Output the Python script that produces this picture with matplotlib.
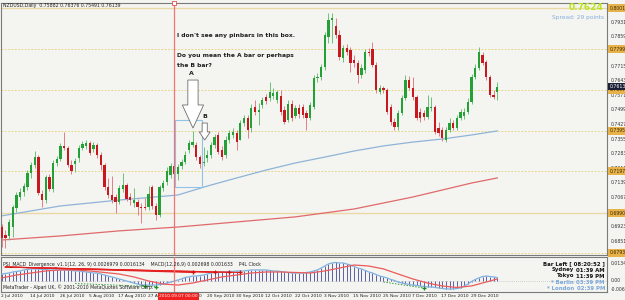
import numpy as np
import matplotlib
matplotlib.use("Agg")
import matplotlib.pyplot as plt
from matplotlib.patches import Polygon, Rectangle
from matplotlib.transforms import blended_transform_factory as blend

plt.rcParams['font.family'] = ['DejaVu Sans']

# NZDUSD daily bars, 2 Jul 2010 -> 7 Jan 2011 (bar index 0 = 2 Jul 2010)
opens = [
    0.6921, 0.6882, 0.6877, 0.6921, 0.7015, 0.7069, 0.7094, 0.7118, 0.7188, 0.7227,
    0.7266, 0.7084, 0.7054, 0.7168, 0.7109, 0.7237, 0.7257, 0.7321, 0.7311, 0.7227,
    0.7232, 0.7261, 0.7311, 0.7321, 0.7335, 0.7306, 0.7326, 0.7276, 0.7227, 0.7118,
    0.7079, 0.7069, 0.7045, 0.7109, 0.7128, 0.7069, 0.7040, 0.7045, 0.7020, 0.7020,
    0.7020, 0.7118, 0.7025, 0.6980, 0.7114, 0.7143, 0.7178, 0.7222, 0.7183, 0.7222,
    0.7242, 0.7301, 0.7326, 0.7326, 0.7266, 0.7237, 0.7261, 0.7276, 0.7326, 0.7375,
    0.7301, 0.7276, 0.7350, 0.7375, 0.7385, 0.7350, 0.7434, 0.7459, 0.7409, 0.7513,
    0.7488, 0.7523, 0.7562, 0.7557, 0.7567, 0.7547, 0.7567, 0.7498, 0.7449, 0.7528,
    0.7468, 0.7508, 0.7513, 0.7483, 0.7459, 0.7513, 0.7656, 0.7661, 0.7710, 0.7858,
    0.7942, 0.7912, 0.7868, 0.7755, 0.7804, 0.7794, 0.7745, 0.7730, 0.7671, 0.7695,
    0.7784, 0.7799, 0.7720, 0.7587, 0.7607, 0.7597, 0.7513, 0.7439, 0.7414, 0.7483,
    0.7557, 0.7646, 0.7607, 0.7562, 0.7488, 0.7483, 0.7464, 0.7508, 0.7513, 0.7409,
    0.7399, 0.7350, 0.7399, 0.7434, 0.7409, 0.7459, 0.7468, 0.7488, 0.7538, 0.7661,
    0.7705, 0.7769, 0.7735, 0.7661, 0.7572, 0.75882]
highs = [
    0.6936, 0.6906, 0.6961, 0.7030, 0.7094, 0.7114, 0.7138, 0.7202, 0.7242, 0.7296,
    0.7276, 0.7104, 0.7178, 0.7183, 0.7252, 0.7271, 0.7335, 0.7390, 0.7321, 0.7252,
    0.7261, 0.7326, 0.7345, 0.7350, 0.7345, 0.7340, 0.7335, 0.7291, 0.7237, 0.7163,
    0.7173, 0.7084, 0.7128, 0.7188, 0.7138, 0.7089, 0.7114, 0.7059, 0.7040, 0.7064,
    0.7123, 0.7128, 0.7040, 0.7128, 0.7153, 0.7217, 0.7237, 0.7237, 0.7232, 0.7257,
    0.7296, 0.7350, 0.7395, 0.7340, 0.7276, 0.7316, 0.7301, 0.7340, 0.7380, 0.7390,
    0.7321, 0.7370, 0.7399, 0.7409, 0.7399, 0.7449, 0.7473, 0.7473, 0.7528, 0.7547,
    0.7533, 0.7562, 0.7577, 0.7636, 0.7607, 0.7597, 0.7597, 0.7518, 0.7547, 0.7547,
    0.7523, 0.7528, 0.7528, 0.7498, 0.7538, 0.7671, 0.7681, 0.7725, 0.7883, 0.7976,
    0.7976, 0.7952, 0.7893, 0.7819, 0.7824, 0.7809, 0.7769, 0.7745, 0.7725, 0.7799,
    0.7804, 0.7833, 0.7735, 0.7621, 0.7616, 0.7607, 0.7528, 0.7459, 0.7498, 0.7572,
    0.7671, 0.7666, 0.7661, 0.7572, 0.7508, 0.7498, 0.7572, 0.7562, 0.7523, 0.7439,
    0.7414, 0.7414, 0.7459, 0.7449, 0.7473, 0.7503, 0.7508, 0.7557, 0.7676, 0.7725,
    0.7809, 0.7784, 0.7745, 0.7671, 0.7597, 0.76376]
lows = [
    0.6822, 0.6818, 0.6857, 0.6872, 0.6995, 0.7054, 0.7074, 0.7104, 0.7163, 0.7212,
    0.7079, 0.7020, 0.7040, 0.7099, 0.7094, 0.7222, 0.7247, 0.7301, 0.7217, 0.7183,
    0.7192, 0.7242, 0.7301, 0.7306, 0.7276, 0.7291, 0.7261, 0.7202, 0.7104, 0.7064,
    0.7040, 0.6990, 0.7035, 0.7094, 0.7049, 0.7030, 0.7020, 0.6980, 0.6941, 0.7005,
    0.7005, 0.7010, 0.6956, 0.6971, 0.7099, 0.7128, 0.7163, 0.7163, 0.7153, 0.7207,
    0.7232, 0.7286, 0.7316, 0.7252, 0.7212, 0.7222, 0.7242, 0.7261, 0.7311, 0.7281,
    0.7252, 0.7261, 0.7335, 0.7360, 0.7301, 0.7350, 0.7419, 0.7360, 0.7390, 0.7473,
    0.7424, 0.7508, 0.7528, 0.7542, 0.7552, 0.7533, 0.7473, 0.7429, 0.7439, 0.7444,
    0.7459, 0.7459, 0.7459, 0.7399, 0.7449, 0.7503, 0.7636, 0.7646, 0.7695, 0.7828,
    0.7828, 0.7853, 0.7745, 0.7735, 0.7769, 0.7685, 0.7710, 0.7631, 0.7656, 0.7681,
    0.7764, 0.7710, 0.7582, 0.7577, 0.7582, 0.7478, 0.7424, 0.7399, 0.7399, 0.7473,
    0.7547, 0.7597, 0.7547, 0.7449, 0.7439, 0.7449, 0.7454, 0.7493, 0.7380, 0.7370,
    0.7345, 0.7340, 0.7390, 0.7399, 0.7399, 0.7449, 0.7454, 0.7478, 0.7528, 0.7651,
    0.7695, 0.7720, 0.7646, 0.7562, 0.7552, 0.75491]
closes = [
    0.6867, 0.6867, 0.6946, 0.7020, 0.7079, 0.7094, 0.7123, 0.7188, 0.7227, 0.7266,
    0.7089, 0.7054, 0.7168, 0.7109, 0.7237, 0.7257, 0.7321, 0.7311, 0.7227, 0.7197,
    0.7247, 0.7311, 0.7330, 0.7335, 0.7286, 0.7326, 0.7276, 0.7227, 0.7118, 0.7079,
    0.7054, 0.7045, 0.7114, 0.7128, 0.7059, 0.7054, 0.7054, 0.7020, 0.7015, 0.7015,
    0.7084, 0.7025, 0.6980, 0.7118, 0.7138, 0.7197, 0.7222, 0.7183, 0.7217, 0.7242,
    0.7276, 0.7335, 0.7340, 0.7266, 0.7232, 0.7242, 0.7276, 0.7326, 0.7365, 0.7291,
    0.7266, 0.7350, 0.7385, 0.7390, 0.7340, 0.7434, 0.7459, 0.7399, 0.7508, 0.7488,
    0.7498, 0.7547, 0.7542, 0.7587, 0.7582, 0.7587, 0.7488, 0.7439, 0.7528, 0.7459,
    0.7508, 0.7478, 0.7473, 0.7459, 0.7523, 0.7656, 0.7661, 0.7710, 0.7868, 0.7942,
    0.7952, 0.7868, 0.7759, 0.7804, 0.7784, 0.7730, 0.7730, 0.7671, 0.7705, 0.7784,
    0.7779, 0.7720, 0.7597, 0.7607, 0.7597, 0.7488, 0.7439, 0.7414, 0.7483, 0.7557,
    0.7646, 0.7607, 0.7562, 0.7459, 0.7459, 0.7464, 0.7513, 0.7513, 0.7390, 0.7385,
    0.7360, 0.7399, 0.7434, 0.7409, 0.7459, 0.7488, 0.7488, 0.7538, 0.7661, 0.7705,
    0.7784, 0.7730, 0.7661, 0.7572, 0.7562, 0.76139]

# moving averages read at a few bars
ma_blue_bars = [0, 16, 32, 48, 56, 64, 72, 80, 88, 96, 104, 112, 120, 128, 135]
ma_blue = [0.6976, 0.7025, 0.7054, 0.7079, 0.7123, 0.7163, 0.7202, 0.7237,
           0.7266, 0.7296, 0.7321, 0.7340, 0.7355, 0.7375, 0.7395]
ma_red_bars = [0, 16, 32, 48, 64, 80, 96, 112, 128, 135]
ma_red = [0.6857, 0.6877, 0.6902, 0.6921, 0.6946, 0.6971, 0.7010, 0.7069, 0.7138, 0.7163]

solid_levels = [0.8001, 0.6990]
dashed_levels = [0.7799, 0.7597, 0.7395, 0.7197, 0.6793]
price_ticks = [0.79310, 0.78590, 0.77870, 0.77150, 0.76430, 0.75710, 0.74990, 0.74270,
               0.73550, 0.72830, 0.72110, 0.71390, 0.70670, 0.69950, 0.69230, 0.68510]

# MACD pane
macd_main = [
    0.0055, 0.0059, 0.0063, 0.0071, 0.0075, 0.0079, 0.0087, 0.0091, 0.0095, 0.0095,
    0.0095, 0.0091, 0.0091, 0.0087, 0.0087, 0.0087, 0.0087, 0.0087, 0.0087, 0.0083,
    0.0079, 0.0079, 0.0075, 0.0071, 0.0067, 0.0063, 0.0063, 0.0055, 0.0047, 0.0039,
    0.0032, 0.0024, 0.0016, 0.0008, 0.0000, -0.0008, -0.0016, -0.0024, -0.0032, -0.0032,
    -0.0032, -0.0032, -0.0032, -0.0028, -0.0024, -0.0016, -0.0008, 0.0000, 0.0008, 0.0016,
    0.0028, 0.0032, 0.0039, 0.0039, 0.0043, 0.0047, 0.0055, 0.0063, 0.0067, 0.0067,
    0.0071, 0.0071, 0.0075, 0.0075, 0.0079, 0.0079, 0.0079, 0.0083, 0.0087, 0.0087,
    0.0087, 0.0087, 0.0087, 0.0083, 0.0079, 0.0079, 0.0075, 0.0071, 0.0067, 0.0063,
    0.0063, 0.0063, 0.0063, 0.0067, 0.0071, 0.0079, 0.0087, 0.0102, 0.0118, 0.0134,
    0.0142, 0.0146, 0.0142, 0.0142, 0.0134, 0.0126, 0.0114, 0.0102, 0.0095, 0.0083,
    0.0071, 0.0063, 0.0051, 0.0039, 0.0032, 0.0024, 0.0012, 0.0004, -0.0008, -0.0016,
    -0.0020, -0.0028, -0.0032, -0.0035, -0.0039, -0.0043, -0.0047, -0.0047, -0.0051, -0.0055,
    -0.0059, -0.0063, -0.0063, -0.0063, -0.0059, -0.0055, -0.0039, -0.0024, -0.0004, 0.0012,
    0.0024, 0.0035, 0.0039, 0.0035, 0.0032, 0.0027]
signal_bars = list(range(0, 136, 4)) + [135]
signal = [0.0024, 0.0047, 0.0063, 0.0079, 0.0087, 0.0087, 0.0079, 0.0067, 0.0055, 0.0032,
          0.0000, -0.0024, -0.0032, -0.0016, 0.0008, 0.0032, 0.0047, 0.0063, 0.0071, 0.0071,
          0.0067, 0.0063, 0.0079, 0.0102, 0.0126, 0.0118, 0.0095, 0.0055, 0.0016, -0.0016,
          -0.0039, -0.0051, -0.0039, -0.0008, 0.0016]
bear_div_start = (1, 0.0110)
bear_div_marks = [(52, 0.0067), (58, 0.0068), (62, 0.0068), (65, 0.0067)]
bull_div_1 = [(20, -0.0020), (42, -0.0045)]
bull_div_1_marks = [(39, -0.0043), (42, -0.0045)]
bull_div_2 = [(104, -0.0008), (115, -0.0055)]

date_bars = list(range(0, 129, 8))
date_labels = ["2 Jul 2010", "14 Jul 2010", "26 Jul 2010", "5 Aug 2010", "17 Aug 2010",
               "27 Aug 2010", "8 Sep 2010", "20 Sep 2010", "30 Sep 2010", "12 Oct 2010",
               "22 Oct 2010", "3 Nov 2010", "15 Nov 2010", "25 Nov 2010", "7 Dec 2010",
               "17 Dec 2010", "29 Dec 2010"]
vline_bar = 47

GREEN, RED = "#23a036", "#c8171f"
BG = "#f4f4f1"
W, H = 625, 300

fig = plt.figure(figsize=(W / 100, H / 100), dpi=100)
fig.patch.set_facecolor(BG)

def fx(p): return p / W
def fy(p): return 1 - p / H

ax = fig.add_axes([fx(1), fy(255), fx(606), 252 / H])
mx = fig.add_axes([fx(1), fy(292), fx(606), 35 / H])
for a in (ax, mx):
    a.set_facecolor(BG)
    a.set_xlim(-0.2, 164.9)
    a.set_xticks([])
    a.set_yticks([])
    for s in a.spines.values():
        s.set_color("#7a7a7a")
        s.set_linewidth(0.8)
ax.set_ylim(0.6783, 0.8026)
mx.set_ylim(-0.00867, 0.0189)

o, h, l, c = map(np.array, (opens, highs, lows, closes))
x = np.arange(len(o))
up = c >= o
ax.vlines(x, l, h, colors=np.where(up, "#6cc27a", "#e07f84"), lw=0.7, zorder=3)
ax.bar(x, np.maximum(np.abs(c - o), 0.0003), bottom=np.minimum(o, c), width=0.62,
       color=np.where(up, GREEN, RED), lw=0, zorder=4)

ax.plot(ma_blue_bars, ma_blue, color="#8fb4d8", lw=0.9, zorder=2)
ax.plot(ma_red_bars, ma_red, color="#e06a6a", lw=0.9, zorder=2)
for v in solid_levels:
    ax.axhline(v, color="#ead9a4", lw=1.0, zorder=1)
for v in dashed_levels:
    ax.axhline(v, color="#e8cd6a", lw=0.6, ls=(0, (2, 2)), zorder=1)

# annotation box + arrows
ax.add_patch(Rectangle((47.3, 0.7118), 7.3, 0.0331, fill=False, ec="#8fc3ea", lw=0.8, zorder=5))

def down_arrow(xc, y0, yneck, ytip, sw, hw):
    pts = [(xc - sw / 2, y0), (xc + sw / 2, y0), (xc + sw / 2, yneck), (xc + hw / 2, yneck),
           (xc, ytip), (xc - hw / 2, yneck), (xc - sw / 2, yneck)]
    ax.add_patch(Polygon(pts, closed=True, fc="white", ec="#6e6e6e", lw=0.6, zorder=6))

down_arrow(52.1, 0.7646, 0.7523, 0.7409, 2.8, 5.8)
down_arrow(55.3, 0.7434, 0.7390, 0.7350, 1.4, 3.0)
ax.text(51.0, 0.7671, "A", fontsize=4.5, fontweight="bold", color="#222", zorder=7)
ax.text(54.6, 0.7460, "B", fontsize=4.5, fontweight="bold", color="#222", zorder=7)
txt = dict(fontsize=4.3, fontweight="bold", color="#1e1e1e", va="center", zorder=7)
ax.text(47.8, 0.7868, "I don't see any pinbars in this box.", **txt)
ax.text(47.8, 0.7769, "Do you mean the A bar or perhaps", **txt)
ax.text(47.8, 0.7720, "the B bar?", **txt)

# vertical line through both panes
for a in (ax, mx):
    a.axvline(vline_bar, color="#f07676", lw=0.9, zorder=8)
ax.plot([vline_bar], [0.8026], "s", ms=2.2, mfc="white", mec="#e05050", mew=0.6,
        clip_on=False, zorder=9)

# right price scale
tr = blend(ax.transAxes, ax.transData)
for v in price_ticks:
    ax.text(1.006, v, f"{v:.5f}", transform=tr, fontsize=3.3, color="#333",
            va="center", ha="left", clip_on=False)
for v in solid_levels + dashed_levels:
    ax.text(1.004, v, f"{v:.5f}", transform=tr, fontsize=3.3, color="#3a2a00",
            va="center", ha="left", clip_on=False, zorder=10,
            bbox=dict(boxstyle="square,pad=0.25", fc="#e8b24a", ec="none"))
ax.text(1.004, closes[-1], f"{closes[-1]:.5f}", transform=tr, fontsize=3.3, color="white",
        va="center", ha="left", clip_on=False, zorder=11,
        bbox=dict(boxstyle="square,pad=0.25", fc="#1c2036", ec="none"))

# MACD pane
mm = np.array(macd_main)
mx.vlines(x, 0, mm, colors="#5c5fa8", lw=0.7, zorder=2)
mx.axhline(0, color="#a8a8a8", lw=0.5, ls=(0, (1, 2)), zorder=1)
mx.plot(x, mm, color="#7fb2e0", lw=0.9, zorder=3)
mx.plot(signal_bars, signal, color="#ec5a5a", lw=0.9, zorder=3)
for bx, by in bear_div_marks:
    mx.plot([bear_div_start[0], bx], [bear_div_start[1], by], color="#e52020", lw=0.8, zorder=4)
    mx.plot([bx], [by], "+", color="#d01010", ms=3, mew=0.9, zorder=5)
mx.plot(*zip(*bull_div_1), color="#3a9a3a", lw=0.7, ls=(0, (1.5, 1.5)), zorder=4)
mx.plot(*zip(*bull_div_1_marks), "+", color="#1f8a1f", ms=3, mew=0.9, ls="none", zorder=5)
mx.plot(*zip(*bull_div_2), color="#3a9a3a", lw=0.7, ls=(0, (1.5, 1.5)), zorder=4)
mx.plot([bull_div_2[1][0]], [bull_div_2[1][1]], "+", color="#1f8a1f", ms=3, mew=0.9, zorder=5)

mtr = blend(mx.transAxes, mx.transData)
for v, s in [(0.0134, "0.01340"), (0.0, "0.00"), (-0.0067, "-0.00670")]:
    mx.text(1.006, v, s, transform=mtr, fontsize=3.3, color="#333", va="center",
            ha="left", clip_on=False)

small = dict(fontsize=3.3, color="#222", va="center")
fig.text(fx(3), fy(5.5), "NZDUSD,Daily  0.75882 0.76376 0.75491 0.76139", **small)
fig.text(fx(3), fy(264), "PSI_MACD_Divergence_v1.1(12, 26, 9) 0.0026979 0.0016134    "
         "MACD(12,26,9) 0.002698 0.001633    P4L Clock", **small)
fig.text(fx(3), fy(287), "MetaTrader - Alpari UK, \u00a9 2001-2010 MetaQuotes Software Corp.",
         **small)

fig.text(fx(603), fy(8), "0.7624", fontsize=6.5, fontweight="bold", color="#b9e41e",
         ha="right", va="center")
fig.text(fx(604), fy(17), "Spread: 29 points", fontsize=4.2, color="#86aede",
         ha="right", va="center")

fig.text(fx(605), fy(264), "Bar Left [ 08:20:52 ]", fontsize=3.9, fontweight="bold",
         color="#111", ha="right", va="center")
clock = [("Sydney", "01:39 AM", "#111"), ("Tokyo", "11:39 PM", "#111"),
         ("* Berlin", "03:39 PM", "#7aa6d8"), ("* London", "02:39 PM", "#7aa6d8")]
for k, (city, t, colr) in enumerate(clock):
    yy = 270 + 6 * k
    fig.text(fx(574), fy(yy), city, fontsize=3.9, fontweight="bold", color=colr,
             ha="right", va="center")
    fig.text(fx(605), fy(yy), t, fontsize=3.9, fontweight="bold", color=colr,
             ha="right", va="center")

dtr = blend(mx.transData, mx.transAxes)
for b, s in zip(date_bars, date_labels):
    mx.text(b - 0.2, -0.12, s, transform=dtr, fontsize=3.2, color="#222",
            ha="left", va="center", clip_on=False)
mx.text(vline_bar + 1.2, -0.12, "2010.09.07 00:00", transform=dtr, fontsize=3.2,
        color="white", ha="center", va="center", clip_on=False, zorder=12,
        bbox=dict(boxstyle="square,pad=0.3", fc="#f02020", ec="none"))

fig.savefig("out.png", dpi=100, facecolor=BG)
